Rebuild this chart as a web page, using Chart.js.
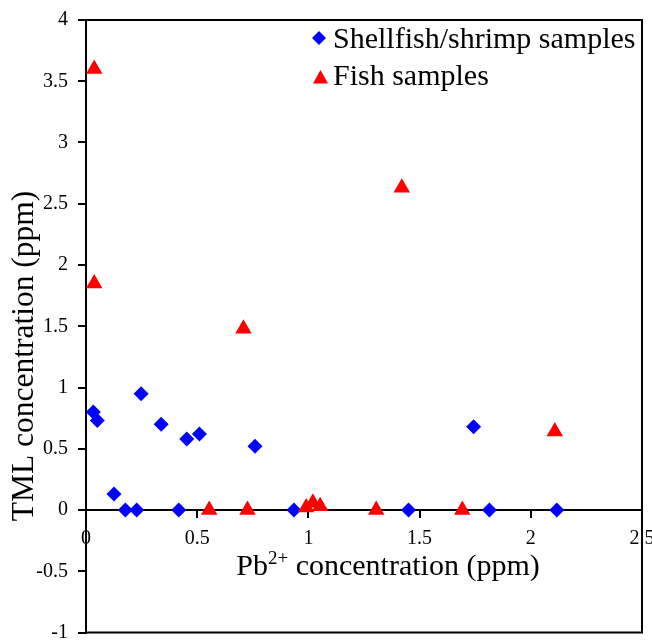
<!DOCTYPE html>
<html>
<head>
<meta charset="utf-8">
<script src="https://cdn.jsdelivr.net/npm/chart.js@4"></script>
<style>
	html, body { margin: 0; padding: 0; background: #fff; }
	#wrap { width: 652px; height: 642px; }
</style>
</head>
<body>
<div id="wrap"><canvas id="chart-tml"></canvas></div>
<script>
// Shellfish / shrimp samples
const shellX = [0.033, 0.051, 0.126, 0.177, 0.228, 0.248, 0.338, 0.417, 0.453, 0.51, 0.76, 0.935, 1.45, 1.743, 1.814, 2.117];
const shellY = [0.8, 0.73, 0.13, 0, 0, 0.95, 0.7, 0, 0.58, 0.62, 0.52, 0, 0, 0.68, 0, 0];

// Fish samples
const fishX = [0.037, 0.037, 0.554, 0.708, 0.726, 0.99, 1.02, 1.053, 1.305, 1.42, 1.692, 2.108];
const fishY = [3.6, 1.85, 0, 1.48, 0, 0.02, 0.06, 0.03, 0, 2.63, 0, 0.64];

const xTicks = [0, 0.5, 1, 1.5, 2, 2.5];
const yTicks = [-1, -0.5, 0, 0.5, 1, 1.5, 2, 2.5, 3, 3.5, 4];

const SERIF = "'Liberation Serif', 'Times New Roman', serif";
const BLUE = "#0000ff";
const RED = "#ff0000";

const toPoints = (xs, ys) => xs.map((x, i) => ({ x: x, y: ys[i] }));

//--------------------------------------------
// Frame, titles and legend
//--------------------------------------------
const decorations = {
	id: "decorations",
	beforeDatasetsDraw(chart) {
		const { ctx, chartArea } = chart;
		ctx.save();
		ctx.strokeStyle = "#000";
		ctx.lineWidth = 2;
		ctx.strokeRect(chartArea.left, chartArea.top, chartArea.right - chartArea.left, chartArea.bottom - chartArea.top);
		ctx.restore();
	},
	afterDraw(chart) {
		const { ctx } = chart;
		ctx.save();
		ctx.fillStyle = "#000";

		// y title
		ctx.save();
		ctx.translate(33, 356);
		ctx.rotate(-Math.PI / 2);
		ctx.font = "31.5px " + SERIF;
		ctx.textAlign = "center";
		ctx.textBaseline = "alphabetic";
		ctx.fillText("TML concentration (ppm)", 0, 0);
		ctx.restore();

		// x title with superscript
		const big = "30px " + SERIF;
		const small = "19px " + SERIF;
		ctx.textBaseline = "alphabetic";
		ctx.textAlign = "left";
		ctx.font = big;
		const w1 = ctx.measureText("Pb").width;
		const w3 = ctx.measureText(" concentration (ppm)").width;
		ctx.font = small;
		const w2 = ctx.measureText("2+").width;
		let x = 388 - (w1 + w2 + w3) / 2;
		const base = 575;
		ctx.font = big;
		ctx.fillText("Pb", x, base);
		x += w1;
		ctx.font = small;
		ctx.fillText("2+", x, base - 11);
		x += w2;
		ctx.font = big;
		ctx.fillText(" concentration (ppm)", x, base);

		// legend
		ctx.fillStyle = BLUE;
		ctx.beginPath();
		ctx.moveTo(319 - 7, 38);
		ctx.lineTo(319, 38 - 7);
		ctx.lineTo(319 + 7, 38);
		ctx.lineTo(319, 38 + 7);
		ctx.closePath();
		ctx.fill();

		ctx.fillStyle = RED;
		ctx.beginPath();
		ctx.moveTo(320.5, 70);
		ctx.lineTo(320.5 + 7.5, 83.5);
		ctx.lineTo(320.5 - 7.5, 83.5);
		ctx.closePath();
		ctx.fill();

		ctx.fillStyle = "#000";
		ctx.font = "30px " + SERIF;
		ctx.fillText("Shellfish/shrimp samples", 333, 48);
		ctx.fillText("Fish samples", 333, 85);
		ctx.restore();
	},
};

const CHART_CONFIG = {
	type: "scatter",
	data: {
		datasets: [
			{
				label: "Shellfish/shrimp samples",
				data: toPoints(shellX, shellY),
				pointStyle: "rectRot",
				pointRadius: 7.5,
				pointHoverRadius: 7.5,
				pointBorderWidth: 0,
				backgroundColor: BLUE,
				borderColor: BLUE,
				order: 1,
			},
			{
				label: "Fish samples",
				data: toPoints(fishX, fishY),
				pointStyle: "triangle",
				pointRadius: 9.5,
				pointHoverRadius: 9.5,
				pointBorderWidth: 0,
				backgroundColor: RED,
				borderColor: RED,
				order: 0,
			},
		],
	},
	options: {
		responsive: true,
		maintainAspectRatio: false,
		animation: false,
		layout: {
			padding: { top: 20, right: 10, bottom: 9, left: 0 },
		},
		scales: {
			x: {
				type: "linear",
				position: { y: 0 },
				min: 0,
				max: 2.5,
				afterBuildTicks: (scale) => {
					scale.ticks = xTicks.map((v) => ({ value: v }));
				},
				afterFit: (scale) => {
					scale.paddingLeft = 0;
					scale.paddingRight = 0;
				},
				grid: {
					drawOnChartArea: false,
					drawTicks: true,
					tickLength: 7,
					color: "#000",
					lineWidth: 2,
				},
				border: {
					display: true,
					color: "#000",
					width: 2,
				},
				ticks: {
					color: "#000",
					font: { family: SERIF, size: 20 },
					padding: 10,
					maxRotation: 0,
					callback: (value) => String(value),
				},
			},
			y: {
				type: "linear",
				position: "left",
				min: -1,
				max: 4,
				afterBuildTicks: (scale) => {
					scale.ticks = yTicks.map((v) => ({ value: v }));
				},
				afterFit: (scale) => {
					scale.width = 86;
					scale.paddingTop = 0;
					scale.paddingBottom = 0;
				},
				grid: {
					drawOnChartArea: false,
					drawTicks: true,
					tickLength: 8,
					color: "#000",
					lineWidth: 2,
				},
				border: {
					display: true,
					color: "#000",
					width: 2,
				},
				ticks: {
					color: "#000",
					font: { family: SERIF, size: 20 },
					padding: 10,
					callback: (value) => String(value),
				},
			},
		},
		plugins: {
			legend: { display: false },
			title: { display: false },
			tooltip: { enabled: false },
		},
	},
	plugins: [decorations],
};

new Chart(document.getElementById("chart-tml"), CHART_CONFIG);
</script>
</body>
</html>
